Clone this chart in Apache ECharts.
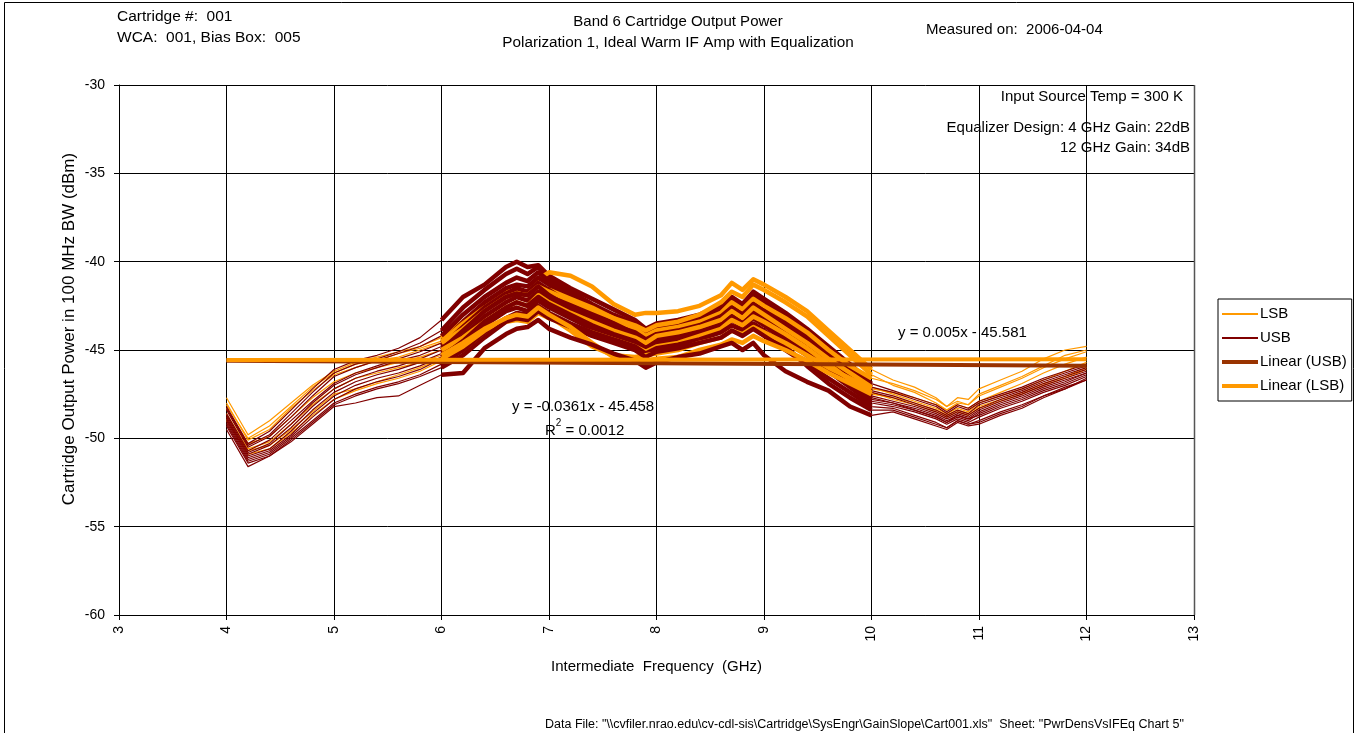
<!DOCTYPE html>
<html>
<head>
<meta charset="utf-8">
<script src="https://cdn.jsdelivr.net/npm/echarts@6/dist/echarts.min.js"></script>
<style>
  html, body { margin: 0; padding: 0; background: #fff; }
  #chart { width: 1358px; height: 733px; }
</style>
</head>
<body>
<div id="chart"></div>
<script>
// IF frequency grid (GHz) shared by every sweep
const freqGHz = [4.0,4.2,4.4,4.6,4.8,5.0,5.2,5.4,5.6,5.8, 6.0,6.2,6.4,6.6,6.7,6.8,6.9,7.0,7.2,7.4,
                 7.6,7.8,7.9,8.0,8.2,8.4,8.6,8.7,8.8,8.9, 9.0,9.2,9.4,9.6,9.8,10.0,10.2,10.4,10.6,10.7,
                 10.8,10.9,11.0,11.2,11.4,11.6,11.8,12.0];

// in-band window drawn with heavy lines
const bandLo = 6.0, bandHi = 10.0;

// LSB output power sweeps (dBm in 100 MHz)
const lsb1 = [-47.7,-49.8,-49.0,-48.0,-47.0,-46.2,-45.7,-45.4,-45.1,-44.8, -44.3,-43.4,-42.4,-41.7,-41.6,-41.7,-41.0,-40.6,-40.8,-41.4,
              -42.4,-43.0,-42.9,-42.9,-42.8,-42.5,-41.9,-41.2,-41.6,-41.0, -41.3,-42.0,-42.8,-43.9,-45.0,-46.1,-46.7,-47.1,-47.7,-48.2,
              -47.7,-47.8,-47.2,-46.7,-46.2,-45.5,-45.0,-44.8];
const lsb2 = [-48.0,-50.1,-49.5,-48.3,-47.3,-46.4,-46.0,-45.6,-45.4,-45.0, -44.6,-43.8,-42.8,-42.0,-41.8,-41.9,-41.4,-41.7,-42.2,-42.7,
              -43.2,-43.6,-43.9,-43.6,-43.4,-43.0,-42.3,-41.7,-42.0,-41.3, -41.6,-42.3,-43.1,-44.2,-45.3,-46.4,-47.0,-47.4,-48.0,-48.4,
              -48.0,-48.1,-47.6,-47.1,-46.6,-46.0,-45.5,-45.1];
const lsb3 = [-48.3,-50.3,-49.9,-48.8,-47.7,-46.8,-46.3,-46.0,-45.7,-45.4, -45.0,-44.3,-43.4,-42.6,-42.3,-42.5,-41.9,-42.3,-42.9,-43.4,
              -43.9,-44.3,-44.6,-44.2,-44.0,-43.7,-43.3,-42.8,-43.2,-42.6, -43.0,-43.8,-44.6,-45.5,-46.3,-47.1,-47.5,-47.9,-48.3,-48.6,
              -48.3,-48.5,-48.0,-47.6,-47.2,-46.7,-46.2,-45.7];
const lsb4 = [-48.6,-50.6,-50.2,-49.2,-48.1,-47.2,-46.6,-46.3,-46.0,-45.7, -45.3,-44.6,-43.8,-43.2,-43.0,-43.1,-42.6,-43.0,-43.7,-44.6,
              -45.4,-45.5,-45.6,-45.5,-45.4,-45.0,-44.7,-44.4,-44.6,-44.2, -44.5,-45.0,-45.6,-46.3,-46.9,-47.5,-47.7,-48.0,-48.4,-48.7,
              -48.4,-48.6,-48.2,-47.8,-47.4,-46.9,-46.5,-46.0];
const lsb5 = [-48.9,-50.9,-50.6,-49.7,-48.7,-47.8,-47.3,-46.9,-46.6,-46.2, -45.6,-45.0,-44.1,-43.4,-43.3,-43.4,-42.9,-43.2,-43.6,-44.0,
              -44.4,-44.8,-45.1,-44.8,-44.6,-44.2,-43.8,-43.3,-43.6,-43.1, -43.4,-44.1,-44.9,-45.8,-46.7,-47.4,-47.8,-48.1,-48.5,-48.8,
              -48.5,-48.7,-48.3,-47.9,-47.5,-47.0,-46.6,-46.1];
const lsb6 = [-48.1,-50.0,-49.3,-48.2,-47.1,-46.3,-45.8,-45.6,-45.2,-44.9, -44.5,-43.5,-42.6,-41.9,-41.6,-41.8,-41.3,-41.6,-42.1,-42.6,
              -43.2,-43.8,-44.2,-43.9,-43.7,-43.4,-42.9,-42.3,-42.7,-42.1, -42.5,-43.2,-44.0,-45.0,-45.9,-46.6,-46.9,-47.3,-47.8,-48.2,
              -47.9,-48.1,-47.5,-47.0,-46.5,-45.9,-45.3,-45.0];
const lsb7 = [-49.0,-50.7,-50.4,-49.5,-48.5,-47.5,-47.2,-46.8,-46.4,-46.0, -45.5,-44.8,-43.9,-43.2,-43.1,-43.2,-42.7,-43.1,-43.9,-44.8,
              -45.3,-45.4,-45.3,-45.2,-45.0,-44.6,-44.3,-43.9,-44.1,-43.7, -44.0,-44.6,-45.3,-46.0,-46.6,-47.2,-47.4,-47.7,-48.1,-48.4,
              -48.1,-48.3,-47.9,-47.4,-46.9,-46.3,-45.8,-45.4];

// USB output power sweeps (dBm in 100 MHz)
const usb1 = [-48.2,-50.3,-49.6,-48.4,-47.2,-46.1,-45.6,-45.3,-44.9,-44.3, -43.3,-42.0,-41.3,-40.3,-40.0,-40.3,-40.2,-40.8,-41.5,-42.1,
              -42.7,-43.3,-43.8,-43.5,-43.3,-43.0,-42.5,-42.0,-42.4,-41.7, -42.1,-42.9,-43.8,-44.8,-45.8,-46.9,-47.3,-47.7,-48.1,-48.5,
              -48.1,-48.3,-47.9,-47.5,-47.1,-46.6,-46.2,-45.8];
const usb2 = [-48.4,-50.5,-49.9,-48.8,-47.6,-46.5,-46.0,-45.6,-45.2,-44.8, -44.2,-43.0,-42.0,-41.2,-40.9,-41.1,-40.6,-41.1,-41.9,-42.6,
              -43.2,-43.7,-44.1,-43.8,-43.6,-43.3,-42.8,-42.3,-42.7,-42.0, -42.4,-43.3,-44.2,-45.2,-46.2,-47.3,-47.6,-48.0,-48.4,-48.7,
              -48.4,-48.6,-48.1,-47.7,-47.3,-46.8,-46.4,-46.0];
const usb3 = [-48.7,-50.8,-50.3,-49.2,-48.0,-47.0,-46.4,-46.0,-45.6,-45.3, -44.8,-43.7,-42.6,-41.8,-41.5,-41.7,-41.2,-41.6,-42.4,-43.0,
              -43.6,-44.0,-44.4,-44.1,-43.9,-43.6,-43.1,-42.6,-43.0,-42.4, -42.8,-43.7,-44.6,-45.6,-46.6,-47.6,-47.9,-48.2,-48.6,-48.9,
              -48.6,-48.8,-48.4,-47.9,-47.5,-47.0,-46.6,-46.2];
const usb4 = [-48.9,-51.0,-50.6,-49.6,-48.4,-47.4,-46.8,-46.4,-46.1,-45.7, -45.2,-44.2,-43.1,-42.3,-42.0,-42.2,-41.7,-42.1,-42.8,-43.4,
              -43.9,-44.3,-44.7,-44.4,-44.2,-43.9,-43.4,-42.9,-43.3,-42.8, -43.2,-44.0,-44.9,-45.9,-46.9,-47.8,-48.0,-48.4,-48.8,-49.1,
              -48.8,-49.0,-48.6,-48.1,-47.7,-47.2,-46.8,-46.3];
const usb5 = [-49.1,-51.2,-50.8,-49.9,-48.8,-47.8,-47.2,-46.8,-46.5,-46.1, -45.5,-44.6,-43.6,-42.8,-42.6,-42.8,-42.2,-42.6,-43.2,-43.8,
              -44.2,-44.6,-45.0,-44.7,-44.5,-44.2,-43.8,-43.3,-43.7,-43.2, -43.6,-44.5,-45.3,-46.2,-47.1,-48.0,-48.2,-48.5,-48.9,-49.2,
              -48.9,-49.1,-48.8,-48.3,-47.9,-47.4,-47.0,-46.5];
const usb6 = [-49.3,-51.4,-51.0,-50.1,-49.1,-48.1,-47.6,-47.2,-46.9,-46.5, -46.0,-45.3,-44.3,-43.4,-43.2,-43.3,-42.8,-43.2,-43.7,-44.2,
              -44.6,-45.0,-45.4,-45.1,-44.9,-44.6,-44.3,-43.9,-44.2,-43.8, -44.2,-45.0,-45.8,-46.6,-47.4,-48.2,-48.3,-48.7,-49.1,-49.4,
              -49.0,-49.2,-49.0,-48.5,-48.1,-47.6,-47.1,-46.7];
const usb7 = [-49.5,-51.6,-51.0,-50.2,-49.2,-48.2,-48.0,-47.7,-47.6,-47.0, -46.4,-46.3,-44.9,-44.1,-43.8,-43.7,-43.3,-43.8,-44.3,-44.7,
              -45.2,-45.6,-46.0,-45.7,-45.4,-45.2,-44.8,-44.6,-45.0,-44.6, -45.3,-46.2,-46.8,-47.3,-48.2,-48.7,-48.5,-48.9,-49.3,-49.5,
              -49.1,-49.3,-49.2,-48.7,-48.3,-47.7,-47.2,-46.7];
const usb8 = [-48.6,-50.7,-50.1,-49.0,-47.9,-46.9,-46.3,-45.9,-45.5,-45.1, -44.6,-43.4,-42.3,-41.5,-41.3,-41.4,-40.9,-41.3,-42.1,-42.8,
              -43.4,-43.9,-44.3,-44.0,-43.8,-43.5,-43.0,-42.4,-42.8,-42.2, -42.6,-43.5,-44.4,-45.4,-46.4,-47.4,-47.7,-48.1,-48.5,-48.8,
              -48.5,-48.7,-48.3,-47.8,-47.4,-46.9,-46.5,-46.1];
const usb9 = [-49.0,-51.1,-50.7,-49.8,-48.6,-47.6,-47.0,-46.6,-46.3,-45.9, -45.4,-44.5,-43.4,-42.6,-42.3,-42.5,-42.0,-42.4,-43.0,-43.6,
              -44.1,-44.5,-44.9,-44.6,-44.3,-44.0,-43.6,-43.1,-43.5,-43.0, -43.4,-44.3,-45.1,-46.0,-47.0,-47.9,-48.1,-48.4,-48.8,-49.1,
              -48.7,-48.9,-48.7,-48.2,-47.8,-47.3,-46.9,-46.4];
const usb10 = [-48.3,-50.4,-49.8,-48.6,-47.4,-46.3,-45.8,-45.5,-45.1,-44.6, -43.9,-42.6,-41.6,-40.7,-40.4,-40.7,-40.3,-40.9,-41.7,-42.4,
               -43.0,-43.5,-44.0,-43.7,-43.4,-43.1,-42.7,-42.1,-42.5,-41.9, -42.3,-43.1,-44.0,-45.0,-46.0,-47.1,-47.4,-47.8,-48.2,-48.6,
               -48.2,-48.4,-48.0,-47.6,-47.2,-46.7,-46.3,-45.9];
const usb11 = [-49.2,-51.3,-50.9,-50.0,-49.0,-48.0,-47.5,-47.1,-46.8,-46.4, -45.8,-45.0,-44.0,-43.2,-42.9,-43.0,-42.5,-42.9,-43.5,-44.0,
               -44.4,-44.8,-45.2,-44.9,-44.7,-44.4,-44.0,-43.6,-43.9,-43.5, -43.9,-44.8,-45.9,-46.9,-47.7,-48.4,-48.4,-48.8,-49.2,-49.4,
               -49.0,-49.2,-49.1,-48.6,-48.2,-47.6,-47.2,-46.6];
const usb12 = [-48.8,-50.9,-50.4,-49.4,-48.2,-47.2,-46.6,-46.2,-45.9,-45.5, -45.0,-43.9,-42.8,-42.0,-41.8,-41.9,-41.4,-41.9,-42.6,-43.2,
               -43.7,-44.1,-44.5,-44.2,-44.0,-43.7,-43.3,-42.7,-43.1,-42.6, -43.0,-43.8,-44.7,-45.7,-46.8,-47.7,-48.0,-48.3,-48.7,-49.0,
               -48.7,-48.9,-48.5,-48.0,-47.6,-47.1,-46.7,-46.3];

const lsbSweeps = [lsb1, lsb2, lsb3, lsb4, lsb5, lsb6, lsb7];
const usbSweeps = [usb1, usb2, usb3, usb4, usb5, usb6, usb7, usb8, usb9, usb10, usb11, usb12];

// least-squares trend lines as reported on the chart
const lsbFit = { slope: 0.005, intercept: -45.581 };
const usbFit = { slope: -0.0361, intercept: -45.458 };
const fitSpan = [4, 12];

// axis ticks
const xTicks = { min: 3, max: 13, step: 1 };
const yTicks = { min: -60, max: -30, step: 5 };

const LSB_COLOR = '#FF9900';
const USB_COLOR = '#800000';
const USB_FIT_COLOR = '#993300';
const FONT = 'Liberation Sans, Arial, sans-serif';

// legend swatches: a bar inside a fixed 36x10 box (thin for data, heavy for fits)
const SWATCH_THIN = 'path://M0,0L0.01,0L0,0.01Z M0,10L0.01,10L0,9.99Z M0,4.1L36,4.1L36,5.9L0,5.9Z';
const SWATCH_HEAVY = 'path://M0,0L0.01,0L0,0.01Z M0,10L0.01,10L0,9.99Z M0,3L36,3L36,7L0,7Z';

function pairs(vals, lo, hi) {
  const out = [];
  freqGHz.forEach((f, i) => {
    if (f >= lo - 1e-9 && f <= hi + 1e-9) out.push([f, vals[i]]);
  });
  return out;
}

function sweepSeries(name, vals, color, width, lo, hi, z) {
  return {
    name: name, type: 'line', data: pairs(vals, lo, hi),
    symbol: 'none', smooth: false, z: z,
    lineStyle: { color: color, width: width, join: 'round' },
    itemStyle: { color: color },
    emphasis: { disabled: true }
  };
}

function fitSeries(name, fit, color) {
  return {
    name: name, type: 'line', symbol: 'none', z: 20,
    data: fitSpan.map(x => [x, fit.slope * x + fit.intercept]),
    lineStyle: { color: color, width: 4 },
    itemStyle: { color: color },
    emphasis: { disabled: true }
  };
}

const fStart = freqGHz[0], fEnd = freqGHz[freqGHz.length - 1];
const series = [];
// full-span sweeps, thin
lsbSweeps.forEach(v => series.push(sweepSeries('LSB', v, LSB_COLOR, 1.2, fStart, fEnd, 2)));
usbSweeps.forEach(v => series.push(sweepSeries('USB', v, USB_COLOR, 1.2, fStart, fEnd, 2)));
// in-band portion, heavy, interleaved
const heavyOrder = [
  ['USB', usb1], ['USB', usb10], ['LSB', lsb1], ['USB', usb2], ['USB', usb8], ['LSB', lsb6], ['USB', usb3],
  ['LSB', lsb2], ['USB', usb12], ['USB', usb4], ['LSB', lsb3], ['USB', usb9], ['USB', usb5], ['LSB', lsb5],
  ['USB', usb11], ['LSB', lsb7], ['USB', usb6], ['LSB', lsb4], ['USB', usb7]
];
heavyOrder.forEach(([n, v]) => series.push(sweepSeries(n, v, n === 'LSB' ? LSB_COLOR : USB_COLOR, 4.5, bandLo, bandHi, 5)));
series.push(fitSeries('Linear (USB)', usbFit, USB_FIT_COLOR));
series.push(fitSeries('Linear (LSB)', lsbFit, LSB_COLOR));

// text helper: (x, y) is the anchor, y is the vertical middle of the line
const txt = (x, y, text, align, size) => ({
  type: 'text', x: x, y: y, z: 50,
  style: { text: text, fill: '#000', font: (size || 15) + 'px ' + FONT,
           textAlign: align || 'left', textVerticalAlign: 'middle' }
});

const chart = echarts.init(document.getElementById('chart'), null, { renderer: 'canvas' });
chart.setOption({
  animation: false,
  backgroundColor: '#fff',
  grid: { left: 119, right: 164, top: 85, bottom: 118, containLabel: false, show: false },
  xAxis: {
    type: 'value', min: xTicks.min, max: xTicks.max, interval: xTicks.step,
    name: 'Intermediate  Frequency  (GHz)', nameLocation: 'middle', nameGap: 44,
    nameTextStyle: { color: '#000', fontSize: 15, fontFamily: FONT },
    axisLine: { show: true, onZero: false, lineStyle: { color: '#000', width: 1 } },
    axisTick: { show: true, inside: false, length: 5, lineStyle: { color: '#000' } },
    axisLabel: { rotate: 90, margin: 11, color: '#000', fontSize: 14, fontFamily: FONT },
    splitLine: { show: true, lineStyle: { color: '#000', width: 1 } }
  },
  yAxis: {
    type: 'value', min: yTicks.min, max: yTicks.max, interval: yTicks.step,
    axisLine: { show: true, onZero: false, lineStyle: { color: '#000', width: 1 } },
    axisTick: { show: true, inside: false, length: 5, lineStyle: { color: '#000' } },
    axisLabel: { margin: 14, color: '#000', fontSize: 14, fontFamily: FONT },
    splitLine: { show: true, lineStyle: { color: '#000', width: 1 } }
  },
  legend: {
    orient: 'vertical', left: 1218, top: 299,
    data: [
      { name: 'LSB', icon: SWATCH_THIN, itemStyle: { color: LSB_COLOR } },
      { name: 'USB', icon: SWATCH_THIN, itemStyle: { color: USB_COLOR } },
      { name: 'Linear (USB)', icon: SWATCH_HEAVY, itemStyle: { color: USB_FIT_COLOR } },
      { name: 'Linear (LSB)', icon: SWATCH_HEAVY, itemStyle: { color: LSB_COLOR } }
    ],
    itemWidth: 36, itemHeight: 10, itemGap: 8,
    padding: [7, 5, 7, 4],
    textStyle: { color: '#000', fontSize: 15, fontFamily: FONT, padding: [0, 0, 0, -3], lineHeight: 16 },
    borderColor: '#000', borderWidth: 1, backgroundColor: '#fff',
    selectedMode: false
  },
  graphic: [
    // outer frame of the sheet
    { type: 'rect', shape: { x: 4.5, y: 2.5, width: 1349, height: 760 }, z: 0,
      style: { fill: 'none', stroke: '#000', lineWidth: 1 } },
    // right edge of the plot box
    { type: 'line', shape: { x1: 1194.5, y1: 85, x2: 1194.5, y2: 615 }, z: 40,
      style: { stroke: '#555', lineWidth: 1.5 } },
    // value-axis title
    { type: 'text', x: 69, y: 329, rotation: Math.PI / 2, z: 50,
      style: { text: 'Cartridge Output Power in 100 MHz BW (dBm)', fill: '#000',
               font: '17px ' + FONT, textAlign: 'center', textVerticalAlign: 'middle' } },
    txt(117, 17, 'Cartridge #:  001', 'left', 15.5),
    txt(117, 38, 'WCA:  001, Bias Box:  005', 'left', 15.5),
    txt(678, 22, 'Band 6 Cartridge Output Power', 'center'),
    txt(678, 43, 'Polarization 1, Ideal Warm IF Amp with Equalization', 'center', 15.3),
    txt(926, 30, 'Measured on:  2006-04-04'),
    txt(1183, 97, 'Input Source Temp = 300 K', 'right'),
    txt(1190, 128, 'Equalizer Design: 4 GHz Gain: 22dB', 'right'),
    txt(1190, 148, '12 GHz Gain: 34dB', 'right'),
    txt(898, 333, 'y = 0.005x - 45.581'),
    txt(512, 407, 'y = -0.0361x - 45.458'),
    { type: 'text', x: 545, y: 418, z: 50,
      style: { text: '{a|R}{s|2}{a| = 0.0012}', fill: '#000',
        rich: { a: { fontSize: 15, fontFamily: FONT, padding: [5, 0, 0, 0] },
                s: { fontSize: 10, fontFamily: FONT, verticalAlign: 'top' } } } },
    { type: 'text', x: 545, y: 725, z: 50,
      style: { text: 'Data File: "\\\\cvfiler.nrao.edu\\cv-cdl-sis\\Cartridge\\SysEngr\\GainSlope\\Cart001.xls"  Sheet: "PwrDensVsIFEq Chart 5"',
        fill: '#000', font: '12.5px "Liberation Sans Narrow", ' + FONT, textVerticalAlign: 'middle' } }
  ],
  series: series
});
</script>
</body>
</html>
